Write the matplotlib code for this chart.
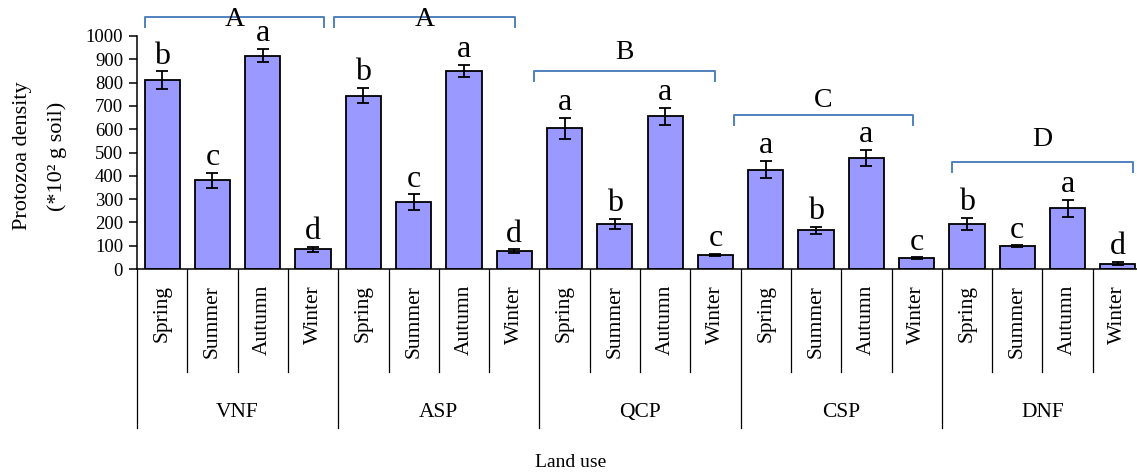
import matplotlib
matplotlib.use("Agg")
import matplotlib.pyplot as plt
import numpy as np

plt.rcParams['font.family'] = ['Liberation Serif', 'DejaVu Serif']

# Data: protozoa density (*10^2 g soil) by land use and season
land_uses = ["VNF", "ASP", "QCP", "CSP", "DNF"]
seasons = ["Spring", "Summer", "Autumn", "Winter"]

vnf = [811, 380, 916, 84]
asp = [744, 286, 850, 76]
qcp = [604, 194, 656, 61]
csp = [426, 166, 477, 46]
dnf = [194, 97, 261, 23]

vnf_err = [38, 33, 28, 12]
asp_err = [33, 34, 27, 8]
qcp_err = [45, 22, 36, 4]
csp_err = [37, 16, 34, 4]
dnf_err = [27, 4, 36, 7]

vnf_sig = ["b", "c", "a", "d"]
asp_sig = ["b", "c", "a", "d"]
qcp_sig = ["a", "b", "a", "c"]
csp_sig = ["a", "b", "a", "c"]
dnf_sig = ["b", "c", "a", "d"]

group_letters = ["A", "A", "B", "C", "D"]

values = vnf + asp + qcp + csp + dnf
errors = vnf_err + asp_err + qcp_err + csp_err + dnf_err
sig = vnf_sig + asp_sig + qcp_sig + csp_sig + dnf_sig

W, H = 1137, 473
fig = plt.figure(figsize=(W / 100, H / 100), dpi=100)
ax = fig.add_axes([137 / W, 1 - 269 / H, (1143 - 137) / W, 233 / H])

n = len(values)
x = np.arange(n) + 0.5
bar_color = "#9999FF"
ax.bar(x, values, width=0.7, color=bar_color, edgecolor="black", linewidth=1.3, zorder=2)
ax.errorbar(x, values, yerr=errors, fmt="none", ecolor="black", elinewidth=1.3,
            capsize=4.5, capthick=1.3, zorder=3)

# significance letters above each bar
for xi, v, e, s in zip(x, values, errors, sig):
    ax.annotate(s, (xi, v + e), xytext=(0, 5.5), textcoords="offset points",
                ha="center", va="baseline", fontsize=23, annotation_clip=False)

ax.set_xlim(0, n)
ax.set_ylim(0, 1000)
ax.set_yticks(np.arange(0, 1001, 100))
ax.tick_params(axis="y", labelsize=13.5, length=6, width=1.1, direction="out", pad=4)
ax.set_xticks([])
for side in ("top", "right"):
    ax.spines[side].set_visible(False)
ax.spines["left"].set_linewidth(1.1)
ax.spines["bottom"].set_linewidth(1.1)

# two-level category axis below the bars
trans = ax.get_xaxis_transform()
for i in range(n + 1):
    bottom = -0.682 if i % 4 == 0 else -0.442
    ax.plot([i, i], [0, bottom], color="black", lw=0.9, transform=trans, clip_on=False)
for xi, lab in zip(x, seasons * len(land_uses)):
    ax.text(xi, -0.069, lab, rotation=90, ha="center", va="top", fontsize=15.5,
            transform=trans)
for g, lab in enumerate(land_uses):
    ax.text(g * 4 + 2, -0.618, lab, ha="center", va="center", fontsize=15.5,
            transform=trans)

# brackets grouping land uses with common letters
bracket_color = "#4F81BD"
bracket_spans = [(0.16, 3.72), (3.92, 7.51), (7.89, 11.49), (11.87, 15.43), (16.2, 19.8)]
bracket_y = [1082, 1082, 850, 661, 459]
label_y = [1069, 1069, 931, 725, 554]
for (x0, x1), by, ly, lab in zip(bracket_spans, bracket_y, label_y, group_letters):
    ax.plot([x0, x0, x1, x1], [by - 42, by, by, by - 42], color=bracket_color,
            lw=1.4, clip_on=False, zorder=1)
    ax.text((x0 + x1) / 2, ly, lab, ha="center", va="center", fontsize=20)

fig.text(23 / W, 1 - 156 / H, "Protozoa density", rotation=90, ha="center",
         va="center", fontsize=16)
fig.text(57 / W, 1 - 156 / H, "(*10² g soil)", rotation=90, ha="center",
         va="center", fontsize=16)
fig.text(571 / W, 1 - 462 / H, "Land use", ha="center", va="center", fontsize=14)

fig.savefig("out.png", dpi=100)
